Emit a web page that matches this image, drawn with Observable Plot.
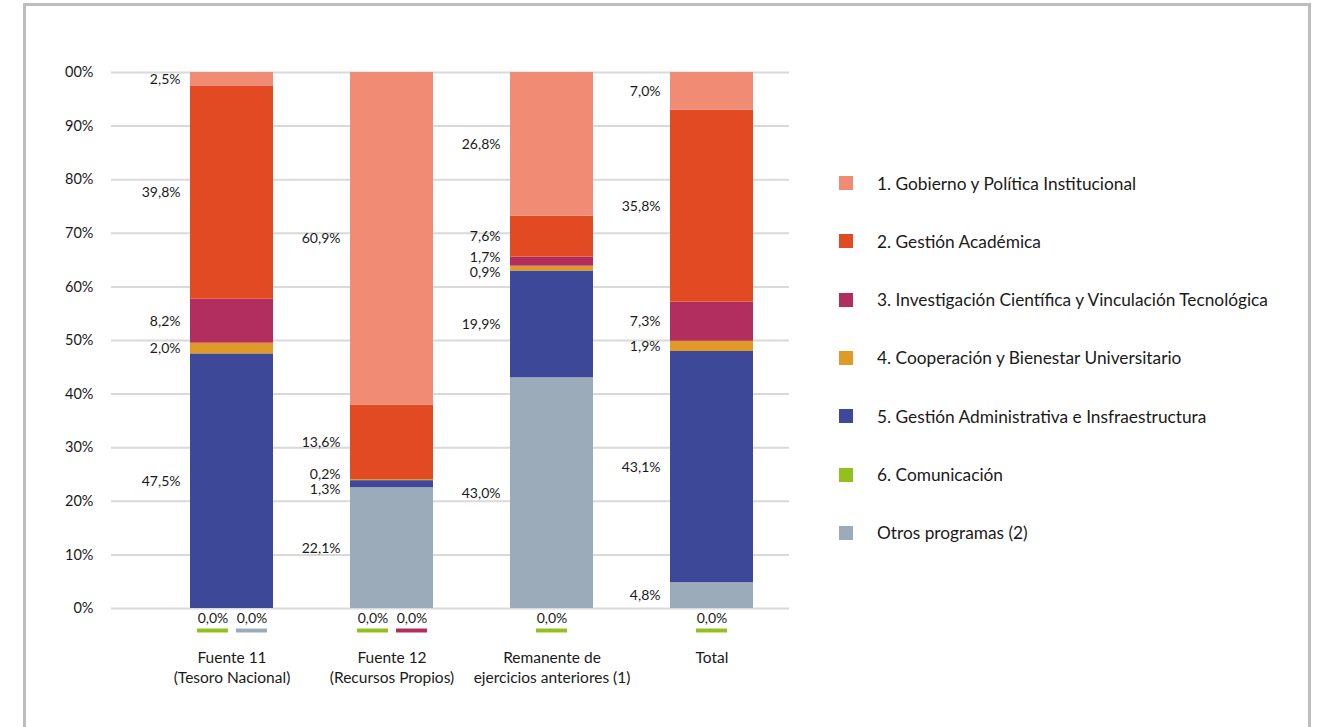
<!DOCTYPE html>
<html>
<head>
<meta charset="utf-8">
<script src="https://cdn.jsdelivr.net/npm/d3@7"></script>
<script src="https://cdn.jsdelivr.net/npm/@observablehq/plot@0.6"></script>
<style>
  body { margin: 0; background: #fff; font-family: Lato, "Open Sans", sans-serif; }
  #frame { position: absolute; left: 23px; top: 3px; width: 1282px; height: 800px; border: 3px solid #bdbdbd; border-bottom: none; }
  #chart { position: absolute; left: 0; top: 0; }
  #legend { position: absolute; left: 839px; top: 0; }
  .item { position: absolute; left: 0; height: 20px; display: flex; align-items: center; white-space: nowrap; font-size: 17.3px; color: #1a1a1a; }
  .sw { width: 14px; height: 14px; margin-right: 24px; flex: none; }
</style>
</head>
<body>
<div id="frame"></div>
<div id="chart"></div>
<div id="legend"></div>
<script>
// ---- Data ----
const categories = [
  "Fuente 11\n(Tesoro Nacional)",
  "Fuente 12\n(Recursos Propios)",
  "Remanente de\nejercicios anteriores (1)",
  "Total"
];
const programs = [
  "1. Gobierno y Política Institucional",
  "2. Gestión Académica",
  "3. Investigación Científica y Vinculación Tecnológica",
  "4. Cooperación y Bienestar Universitario",
  "5. Gestión Administrativa e Insfraestructura",
  "6. Comunicación",
  "Otros programas (2)"
];
const colors = ["#f28b73", "#e24a23", "#b22e5f", "#e09a27", "#3d4899", "#93c01f", "#9babba"];

const gobierno       = [2.5, 60.9, 26.8, 7.0];
const academica      = [39.8, 13.6, 7.6, 35.8];
const investigacion  = [8.2, 0.0, 1.7, 7.3];
const cooperacion    = [2.0, 0.2, 0.9, 1.9];
const administrativa = [47.5, 1.3, 19.9, 43.1];
const comunicacion   = [0.0, 0.0, 0.0, 0.0];
const otros          = [0.0, 22.1, 43.0, 4.8];

const yTicks = [0, 0.1, 0.2, 0.3, 0.4, 0.5, 0.6, 0.7, 0.8, 0.9, 1];
const yTickLabels = ["0%", "10%", "20%", "30%", "40%", "50%", "60%", "70%", "80%", "90%", "00%"];

// ---- Build stacked table ----
const series = [gobierno, academica, investigacion, cooperacion, administrativa, comunicacion, otros];
const fmt = v => v.toFixed(1).replace(".", ",") + "%";
const gap = 0.028;
const rows = [];
const zeroRows = [];
categories.forEach((c, ci) => {
  const total = d3.sum(series, s => s[ci]);
  let acc = 0;
  const segs = [];
  for (let pi = programs.length - 1; pi >= 0; pi--) {
    const v = series[pi][ci];
    const y1 = acc / total; acc += v; const y2 = acc / total;
    segs.push({category: c, program: programs[pi], pi, value: v, y1, y2, mid: (y1 + y2) / 2});
  }
  const lab = segs.filter(d => d.value > 0);
  for (let i = 0; i < lab.length - 1; i++) {
    const a = lab[i], b = lab[i + 1];
    if (b.mid - a.mid < gap) { const m = (a.mid + b.mid) / 2; a.mid = m - gap / 2; b.mid = m + gap / 2; }
  }
  rows.push(...segs);
  const zeros = segs.filter(d => d.value === 0)
    .sort((a, b) => (b.pi === 5) - (a.pi === 5) || a.pi - b.pi);
  zeros.forEach((d, i) => zeroRows.push({...d, pos: zeros.length === 1 ? "c" : (i === 0 ? "l" : "r")}));
});
const nonZero = rows.filter(d => d.value > 0);
const zc = zeroRows.filter(d => d.pos === "c");
const zl = zeroRows.filter(d => d.pos === "l");
const zr = zeroRows.filter(d => d.pos === "r");

const zeroMarks = (data, dx, insetLeft, insetRight) => [
  Plot.text(data, {x: "category", y: () => 0, text: d => fmt(d.value), dx, dy: 10, fontSize: 14, fill: "#1a1a1a"}),
  Plot.tickY(data, {x: "category", y: () => 0, stroke: "program", strokeWidth: 4, dy: 22, insetLeft, insetRight})
];

const chart = Plot.plot({
  width: 800,
  height: 727,
  marginTop: 72,
  marginBottom: 119,
  marginLeft: 111,
  marginRight: 11,
  style: {fontFamily: "Lato, 'Open Sans', sans-serif", fontSize: "14.5px", color: "#1a1a1a", background: "transparent"},
  x: {type: "band", domain: categories, range: [151.5, 791.5], paddingInner: 0.48, paddingOuter: 0.24, axis: null},
  y: {domain: [0, 1], ticks: yTicks, tickFormat: d => yTickLabels[yTicks.indexOf(d)], tickSize: 0, tickPadding: 18, label: null},
  color: {domain: programs, range: colors},
  marks: [
    Plot.ruleY(yTicks, {stroke: "#d9d9d9", strokeWidth: 2}),
    Plot.rectY(nonZero, {x: "category", y1: "y1", y2: "y2", fill: "program"}),
    Plot.text(nonZero, {x: "category", y: "mid", text: d => fmt(d.value), textAnchor: "end", dx: -51.5, fontSize: 14, fill: "#1a1a1a"}),
    ...zeroMarks(zc, 0, 26, 26),
    ...zeroMarks(zl, -19, 7, 45),
    ...zeroMarks(zr, 20, 46, 6),
    Plot.text(categories, {x: d => d, y: () => 0, text: d => d, lineAnchor: "top", dy: 41, lineHeight: 1.25, fontSize: 15.5, fill: "#1a1a1a"})
  ]
});
document.getElementById("chart").appendChild(chart);

// ---- Legend ----
const legend = document.getElementById("legend");
programs.forEach((p, i) => {
  const div = document.createElement("div");
  div.className = "item";
  div.style.top = (173 + i * 58.33) + "px";
  const sw = document.createElement("span");
  sw.className = "sw";
  sw.style.background = colors[i];
  const t = document.createElement("span");
  t.textContent = p;
  div.appendChild(sw); div.appendChild(t);
  legend.appendChild(div);
});
</script>
</body>
</html>
